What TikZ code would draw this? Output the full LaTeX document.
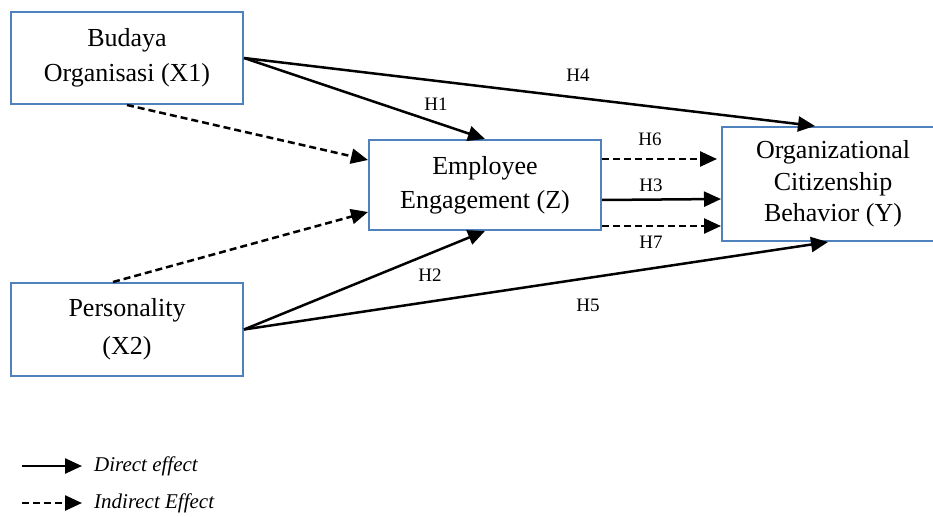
\documentclass[tikz,border=0pt]{standalone}
\usepackage{fontspec}
\setmainfont{Liberation Serif}
\usetikzlibrary{arrows.meta,calc}
\definecolor{boxblue}{RGB}{79,129,189}
\begin{document}
\begin{tikzpicture}[x=1pt,y=-1pt,
  box/.style={draw=boxblue, line width=2pt, align=center, inner sep=0pt},
  conn/.style={line width=2.5pt, -{Triangle[length=17pt,width=15pt]}},
  dconn/.style={conn, dash pattern=on 7pt off 4pt},
  hlabel/.style={inner sep=0pt, font=\fontsize{19}{22}\selectfont},
  legendtext/.style={anchor=west, inner sep=0pt, font=\fontsize{21}{24}\selectfont\itshape}]
\useasboundingbox (0,0) rectangle (933,516);
\clip (0,0) rectangle (933,516);

% boxes
\node[box, minimum width=232pt, minimum height=92pt, font=\fontsize{26}{35}\selectfont]
  (b) at (127,58) {Budaya\\Organisasi (X1)};
\node[box, minimum width=232pt, minimum height=93pt, font=\fontsize{26}{38}\selectfont]
  (p) at (127,329.5) {Personality\\(X2)};
\node[box, minimum width=232pt, minimum height=90pt, font=\fontsize{26}{34}\selectfont]
  (ee) at (485,185) {Employee\\Engagement (Z)};
\node[box, minimum width=222pt, minimum height=114pt, font=\fontsize{26}{31.5}\selectfont]
  (ocb) at (833,184) {Organizational\\Citizenship\\Behavior (Y)};

% connectors
\draw[conn] (b.east) -- (ee.north);
\draw[conn] (b.east) -- ([xshift=-18pt]ocb.north);
\draw[dconn] (b.south) -- ([yshift=25pt]ee.west);
\draw[dconn] ([xshift=-14pt]p.north) -- ([yshift=-27pt]ee.west);
\draw[conn] (p.east) -- (ee.south);
\draw[conn] (p.east) -- ([xshift=-5pt]ocb.south);
\draw[dconn] ([yshift=26pt]ee.east) -- ([xshift=-4pt,yshift=25pt]ocb.west);
\draw[conn] ([yshift=-15pt]ee.east) -- ([yshift=-15pt]ocb.west);
\draw[dconn] ([yshift=-41pt]ee.east) -- ([yshift=-42pt]ocb.west);

% labels
\node[hlabel] (h1) at (436,104) {H1};
\node[hlabel] (h4) at (578,75) {H4};
\node[hlabel] (h6) at (650,139) {H6};
\node[hlabel] (h3) at (651,185) {H3};
\node[hlabel] (h7) at (651,242) {H7};
\node[hlabel] (h2) at (430,275) {H2};
\node[hlabel] (h5) at (588,305) {H5};

% legend
\coordinate (l1s) at (22,466);
\coordinate (l1e) at (82,466);
\coordinate (l2s) at (22,503);
\coordinate (l2e) at (82,503);
\draw[conn] (l1s) -- (l1e);
\draw[dconn] (l2s) -- (l2e);
\node[legendtext] (t1) at (94,466) {Direct effect};
\node[legendtext] (t2) at (94,503) {Indirect Effect};
\end{tikzpicture}
\end{document}
